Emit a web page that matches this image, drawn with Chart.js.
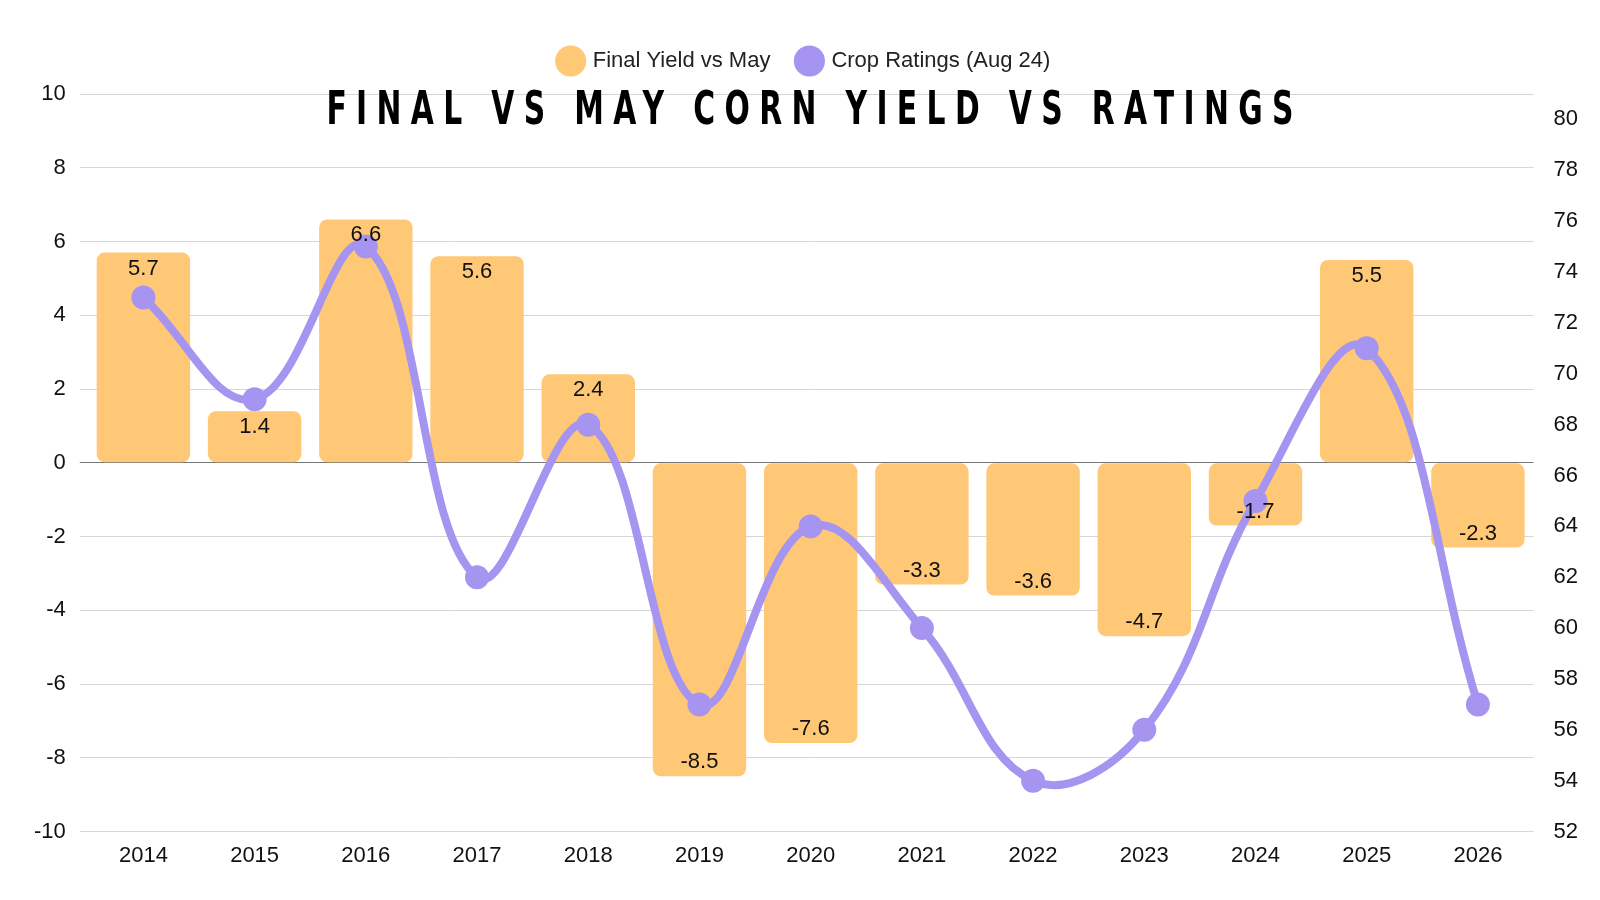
<!DOCTYPE html>
<html>
<head>
<meta charset="utf-8">
<script src="https://cdn.jsdelivr.net/npm/chart.js@4"></script>
<style>
  html, body { margin: 0; padding: 0; background: #fff; }
  #wrap { width: 1600px; height: 900px; }
</style>
</head>
<body>
<div id="wrap"><canvas id="chart"></canvas></div>
<script>
const years = ['2014','2015','2016','2017','2018','2019','2020','2021','2022','2023','2024','2025','2026'];
const yieldVsMay = [5.7, 1.4, 6.6, 5.6, 2.4, -8.5, -7.6, -3.3, -3.6, -4.7, -1.7, 5.5, -2.3];
const cropRatings = [73, 69, 75, 62, 68, 57, 64, 60, 54, 56, 65, 71, 57];

const font = "'Liberation Sans', Arial, sans-serif";
Chart.defaults.font.family = font;
Chart.defaults.color = '#111';

const barLabels = {
    id: 'barLabels',
    afterDatasetsDraw(chart) {
        const ctx = chart.ctx;
        const meta = chart.getDatasetMeta(1);
        ctx.save();
        ctx.font = '22px ' + font;
        ctx.fillStyle = '#111';
        ctx.textAlign = 'center';
        ctx.textBaseline = 'middle';
        meta.data.forEach((bar, i) => {
            const v = yieldVsMay[i];
            const y = v >= 0 ? bar.y + 16 : bar.y - 14;
            ctx.fillText(v.toFixed(1), bar.x, y);
        });
        ctx.restore();
    }
};

const titleInside = {
    id: 'titleInside',
    afterDraw(chart) {
        const ctx = chart.ctx;
        const a = chart.chartArea;
        ctx.save();
        ctx.translate((a.left + a.right) / 2 + 4, 112);
        ctx.scale(0.72, 1);
        ctx.font = "bold 46px 'DejaVu Sans Condensed', 'DejaVu Sans', sans-serif";
        ctx.letterSpacing = '13px';
        ctx.fillStyle = '#000';
        ctx.textAlign = 'center';
        ctx.textBaseline = 'middle';
        ctx.fillText('FINAL VS MAY CORN YIELD VS RATINGS', 0, 0);
        ctx.restore();
    }
};

const legendGap = {
    id: 'legendGap',
    beforeInit(chart) {
        const fit = chart.legend.fit;
        chart.legend.fit = function () { fit.bind(chart.legend)(); this.height += 12; };
    }
};

new Chart(document.getElementById('chart'), {
    type: 'bar',
    data: {
        labels: years,
        datasets: [
            { type: 'line', label: 'Crop Ratings (Aug 24)', data: cropRatings, yAxisID: 'y2',
              borderColor: '#A594F0', backgroundColor: '#A594F0', borderWidth: 8, tension: 0.4,
              pointRadius: 12, pointBackgroundColor: '#A594F0', pointBorderWidth: 0, order: 0 },
            { label: 'Final Yield vs May', data: yieldVsMay, yAxisID: 'y',
              backgroundColor: '#FFC876', borderRadius: 8, borderSkipped: false,
              categoryPercentage: 1, barPercentage: 0.84, order: 1 }
        ]
    },
    options: {
        responsive: true, maintainAspectRatio: false, animation: false,
        layout: { padding: { top: 22, right: 10, left: 20, bottom: 28 } },
        plugins: {
            legend: {
                position: 'top', reverse: true,
                labels: { usePointStyle: true, pointStyle: 'circle', boxWidth: 22, boxHeight: 22,
                          font: { size: 22 }, color: '#222', padding: 28 }
            },
            tooltip: { enabled: false }
        },
        scales: {
            x: { grid: { display: false }, border: { display: false },
                 ticks: { font: { size: 22 }, color: '#111' } },
            y: { min: -10, max: 10, position: 'left',
                 ticks: { stepSize: 2, font: { size: 22 }, color: '#111', padding: 14 },
                 grid: { color: ctx => ctx.tick.value === 0 ? '#777' : '#d6d6d6' },
                 border: { display: false } },
            y2: { min: 52, max: 81, position: 'right',
                  afterBuildTicks: ax => { ax.ticks = ax.ticks.filter(t => t.value % 2 === 0); },
                  ticks: { stepSize: 1, font: { size: 22 }, color: '#111', padding: 12 },
                  grid: { display: false }, border: { display: false } }
        }
    },
    plugins: [barLabels, titleInside, legendGap]
});
</script>
</body>
</html>
